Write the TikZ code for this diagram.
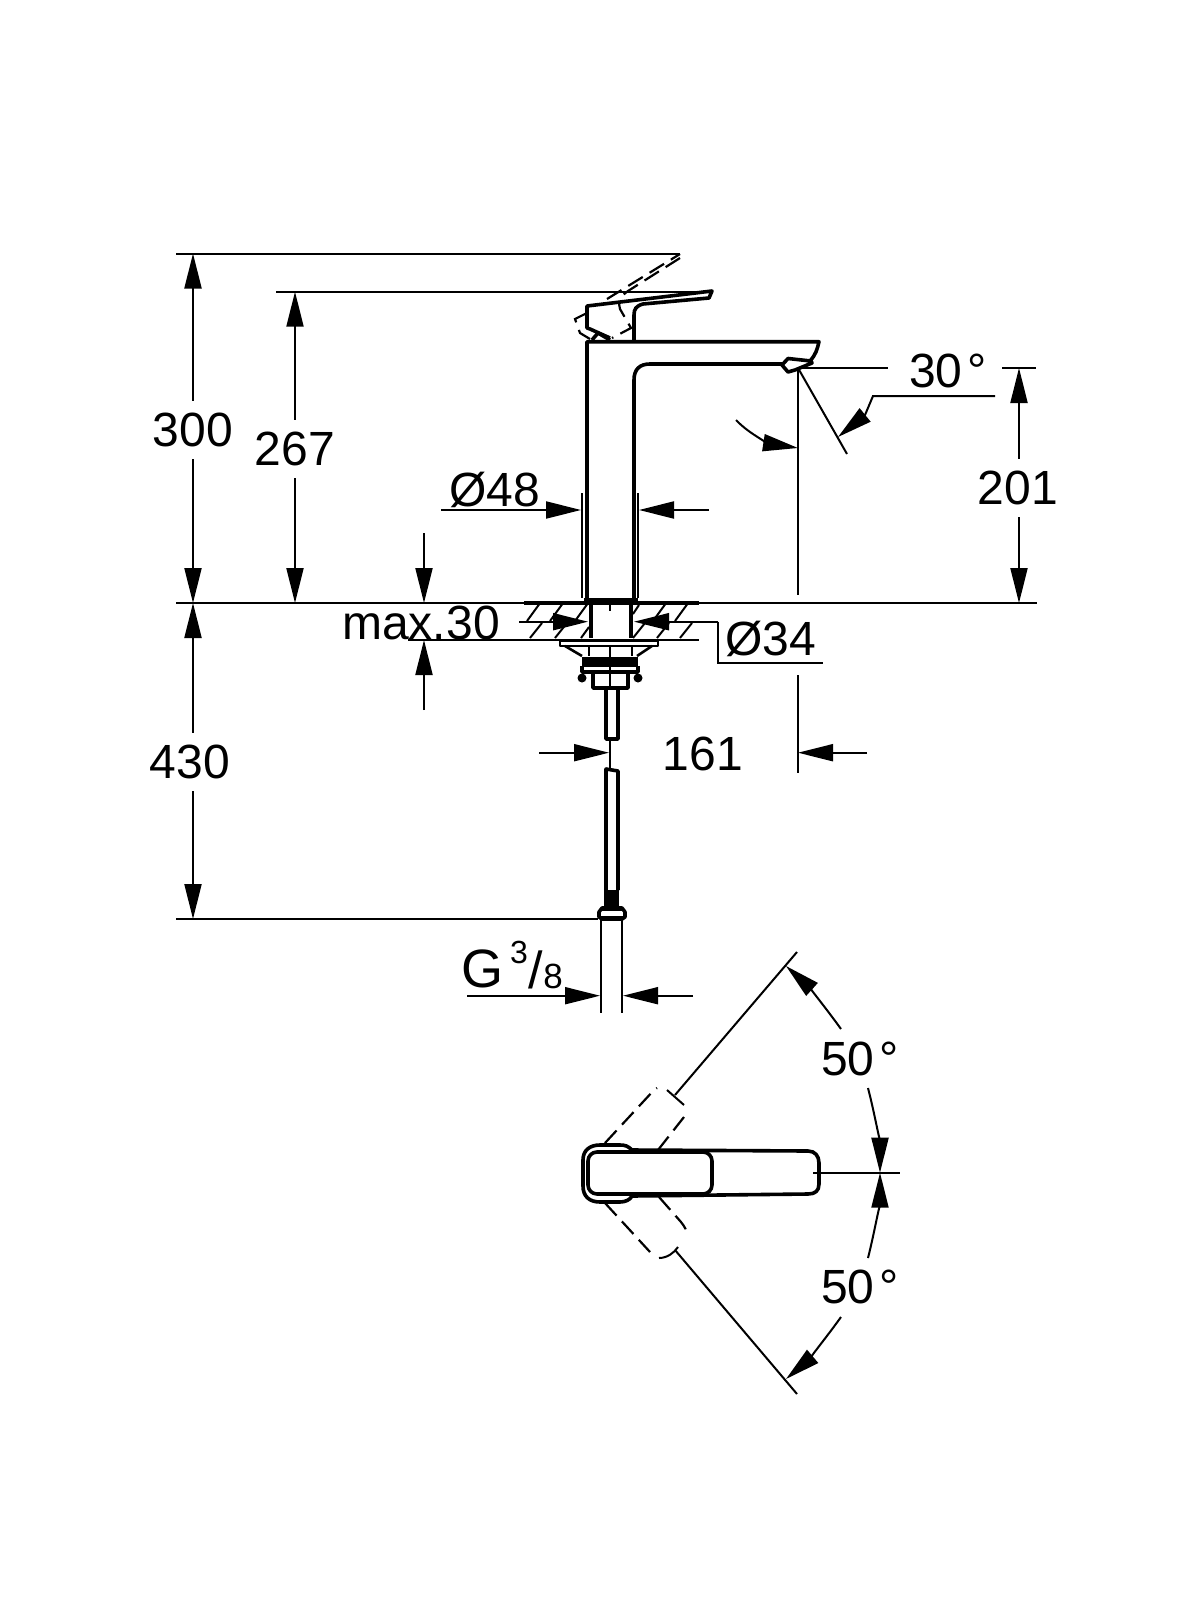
\documentclass[tikz,border=0pt]{standalone}
\usepackage{fontspec}
\setmainfont{Liberation Sans}
\usetikzlibrary{arrows.meta}
\tikzset{
  thinline/.style={line width=2pt},
  thickline/.style={line width=3.6pt, line join=round},
  dashline/.style={line width=2.2pt, dash pattern=on 17pt off 8pt},
  dimline/.style={line width=2pt, -{Triangle[length=35pt,width=17pt]}},
  dimboth/.style={line width=2pt, {Triangle[length=35pt,width=17pt]}-{Triangle[length=35pt,width=17pt]}},
  dimtext/.style={font=\fontsize{48}{48}\selectfont, inner sep=0pt},
  gaptext/.style={dimtext, fill=white, inner xsep=2pt, inner ysep=12pt}
}
\begin{document}
\begin{tikzpicture}[x=1pt,y=-1pt]
  \useasboundingbox (0,0) rectangle (1200,1600);

  % extension lines
  \coordinate (topa) at (176,253.5);
  \coordinate (topb) at (680,253.5);
  \coordinate (leva) at (276,291.7);
  \coordinate (levb) at (700,291.7);
  \coordinate (floora) at (176,603);
  \coordinate (floorb) at (1037,603);
  \coordinate (hosea) at (176,919);
  \coordinate (hoseb) at (598,919);
  \draw[thinline] (topa) -- (topb);
  \draw[thinline] (leva) -- (levb);
  \draw[thinline] (floora) -- (floorb);
  \draw[thinline] (hosea) -- (hoseb);
  \draw[thinline] (408,640) -- (699,640);
  \draw[thickline] (524,603) -- (699,603);
  \draw[thickline, line width=2.8pt] (524,640) -- (699,640);

  % tap body
  \draw[thickline] (587,600) -- (587,341.7) -- (819,341.7) .. controls (817,350) and (816,354) .. (810,361);
  \draw[thickline] (634,600) -- (634,380) .. controls (634,369) and (640,364) .. (650,364) -- (782,364);
  \draw[thickline] (782,365) -- (788,358.5) -- (811,361) -- (812,363) -- (795,370) -- (788,372) -- cycle;

  % lever, solid and raised
  \draw[thickline] (610,338) -- (590,329) -- (587,328) -- (587,306) -- (712,291) -- (709,298) -- (643,304) .. controls (636,306) and (634,309) .. (634,315) -- (634,340);
  \draw[thickline] (592,340) -- (598,333) -- (610,340);
  \draw[dashline] (607,299) -- (680,254);
  \draw[dashline] (680,258) -- (628,291) .. controls (619,297) and (618,303) .. (620,309) -- (631,328) -- (612,338);
  \draw[dashline] (587,313) -- (575,319) -- (580,333) -- (590,339);

  % diameter 48
  \coordinate (wla) at (582,493);
  \coordinate (wlb) at (582,598);
  \coordinate (wra) at (638,493);
  \coordinate (wrb) at (638,598);
  \draw[thinline] (wla) -- (wlb);
  \draw[thinline] (wra) -- (wrb);
  \draw[thickline] (584,600) -- (638,600);
  \draw[dimline] (441,510) -- (581,510);
  \draw[dimline] (709,510) -- (639,510);
  \node[dimtext] (dia48) at (495,490) {Ø48};

  % worktop hatching
  \foreach \hx in {527,550,575,653,675}
    \draw[thinline] (\hx,621) -- ++(12,-16.5);
  \draw[thinline] (633,614) -- (639,605);
  \foreach \hx in {530,555,633,657,680}
    \draw[thinline] (\hx,638) -- ++(12,-15);
  \draw[thinline] (581,638) -- (589,627);

  % fixing block
  \draw[thickline, line width=4.4pt] (591,604) -- (591,638);
  \draw[thickline, line width=4.4pt] (631,604) -- (631,638);
  \draw[thinline] (591,604) -- (631,604);
  \draw[thinline] (610,600) -- (610,611);
  \draw[thickline, line width=2.6pt] (560,641) rectangle (658,646);
  \draw[thickline, line width=2.6pt] (565,646) -- (582,656);
  \draw[thickline, line width=2.6pt] (652,646) -- (637,656);
  \draw[thinline] (589,646) -- (589,656);
  \draw[thinline] (632,646) -- (632,656);
  \draw[thinline] (610,646) -- (610,688);
  \fill (582,657) rectangle (638,667);
  \draw[thickline] (582,666) -- (582,672) -- (638,672) -- (638,666);
  \draw[thickline] (593,672) -- (593,688) -- (628,688) -- (628,672);
  \fill (582,678) circle (4.5);
  \fill (638,678) circle (4.5);

  % hose
  \draw[thickline] (606,688) -- (606,739) -- (618,739) -- (618,688);
  \draw[thinline] (610,739) -- (610,768);
  \draw[thickline] (606,890) -- (606,769) -- (618,771) -- (618,890);
  \fill (604,890) rectangle (619,906);
  \draw[thickline, fill=white] (602,908) -- (622,908) -- (625,912) -- (625,917) -- (622,919) -- (602,919) -- (599,917) -- (599,912) -- cycle;
  \fill (601,908) rectangle (623,911);
  \fill (601,916) rectangle (623,919);
  \draw[thinline, line width=2.4pt] (600.7,919) -- (600.7,1013);
  \draw[thinline, line width=2.4pt] (622,919) -- (622,1013);

  % diameter 34
  \draw[dimline] (519,621.7) -- (588,621.7);
  \draw[dimline] (718,621.7) -- (634,621.7);
  \coordinate (ledgea) at (718,621.7);
  \coordinate (ledgeb) at (718,663);
  \coordinate (ledgec) at (823,663);
  \draw[thinline] (ledgea) -- (ledgeb) -- (ledgec);
  \node[dimtext] (dia34) at (771,639) {Ø34};

  % max.30
  \draw[dimline] (424,533) -- (424,603);
  \draw[dimline] (424,710) -- (424,640);
  \node[dimtext] (maxthirty) at (421,623) {max.30};

  % vertical dimensions
  \draw[dimboth] (193,253.5) -- (193,603);
  \node[gaptext] (dim300) at (193,430) {300};
  \draw[dimboth] (295,291.7) -- (295,603);
  \node[gaptext] (dim267) at (295,449) {267};
  \draw[dimboth] (193,603) -- (193,919);
  \node[gaptext] (dim430) at (190,762) {430};
  \draw[dimboth] (1019,368) -- (1019,603);
  \node[gaptext] (dim201) at (1018,488) {201};

  % spout angle
  \coordinate (aerator) at (798,368);
  \coordinate (plumb) at (798,595);
  \coordinate (ray) at (847,454);
  \draw[thinline] (aerator) -- (plumb);
  \draw[thinline] (aerator) -- (ray);
  \draw[thinline] (aerator) -- (888,368);
  \draw[thinline] (1002,368) -- (1036,368);
  \draw[dimline] (736,420) .. controls (750,435) and (772,444) .. (798,448);
  \draw[dimline] (995,396) -- (873,396) -- (865,415) -- (838,437);
  \node[dimtext] (ang30) at (948,371) {30\kern5pt°};

  % dimension 161
  \draw[thinline] (798,675) -- (798,773);
  \draw[dimline] (539,752.7) -- (609,752.7);
  \draw[dimline] (867,752.7) -- (798,752.7);
  \node[dimtext] (dim161) at (703,754) {161};

  % thread
  \draw[dimline] (467,995.7) -- (600,995.7);
  \draw[dimline] (693,995.7) -- (623,995.7);
  \node[inner sep=0pt, font=\fontsize{54}{54}\selectfont] (thrg) at (482,969) {G};
  \node[inner sep=0pt, font=\fontsize{32}{32}\selectfont] (thra) at (519,952) {3};
  \node[inner sep=0pt, font=\fontsize{52}{52}\selectfont] (thrs) at (536,970) {/};
  \node[inner sep=0pt, font=\fontsize{35}{35}\selectfont] (thrb) at (553,976) {8};

  % top view
  \draw[thickline, rounded corners=9pt] (588,1152) rectangle (712,1194);
  \draw[thickline] (632,1150) -- (808,1151) .. controls (815,1151) and (819,1156) .. (819,1163) -- (819,1184) .. controls (819,1191) and (815,1194) .. (808,1194) -- (632,1196);
  \draw[thickline] (632,1150) .. controls (628,1146) and (625,1145) .. (620,1145) -- (600,1145) .. controls (589,1145) and (583,1151) .. (583,1160) -- (583,1186) .. controls (583,1196) and (589,1202) .. (600,1202) -- (620,1202) .. controls (625,1202) and (630,1200) .. (632,1196);

  % lever swung, both sides
  \draw[dashline] (605,1143) -- (654,1090) -- (657,1088);
  \draw[dashline] (658,1150) -- (684,1117);
  \draw[thinline] (667,1090) -- (684,1105);
  \draw[dashline] (605,1203) -- (650,1252);
  \draw[dashline] (659,1197) -- (681,1222) .. controls (685,1227) and (687,1231) .. (687,1235);
  \draw[thinline] (659,1258) .. controls (667,1258) and (674,1253) .. (678,1247);

  % swing angles
  \coordinate (uppera) at (675,1095);
  \coordinate (upperb) at (797,952);
  \coordinate (lowera) at (675,1250);
  \coordinate (lowerb) at (797,1394);
  \coordinate (axisa) at (813,1172.7);
  \coordinate (axisb) at (900,1172.7);
  \draw[thinline] (uppera) -- (upperb);
  \draw[thinline] (lowera) -- (lowerb);
  \draw[thinline] (axisa) -- (axisb);
  \draw[dimline] (841,1029) .. controls (823,1004) and (806,984) .. (786,966);
  \draw[dimline] (868,1088) .. controls (875,1115) and (880,1145) .. (880,1172.7);
  \draw[dimline] (868,1258) .. controls (875,1230) and (880,1200) .. (880,1172.7);
  \draw[dimline] (841,1317) .. controls (823,1342) and (806,1362) .. (786,1379);
  \node[dimtext] (ang50a) at (860,1059) {50\kern5pt°};
  \node[dimtext] (ang50b) at (860,1287) {50\kern5pt°};
\end{tikzpicture}
\end{document}
